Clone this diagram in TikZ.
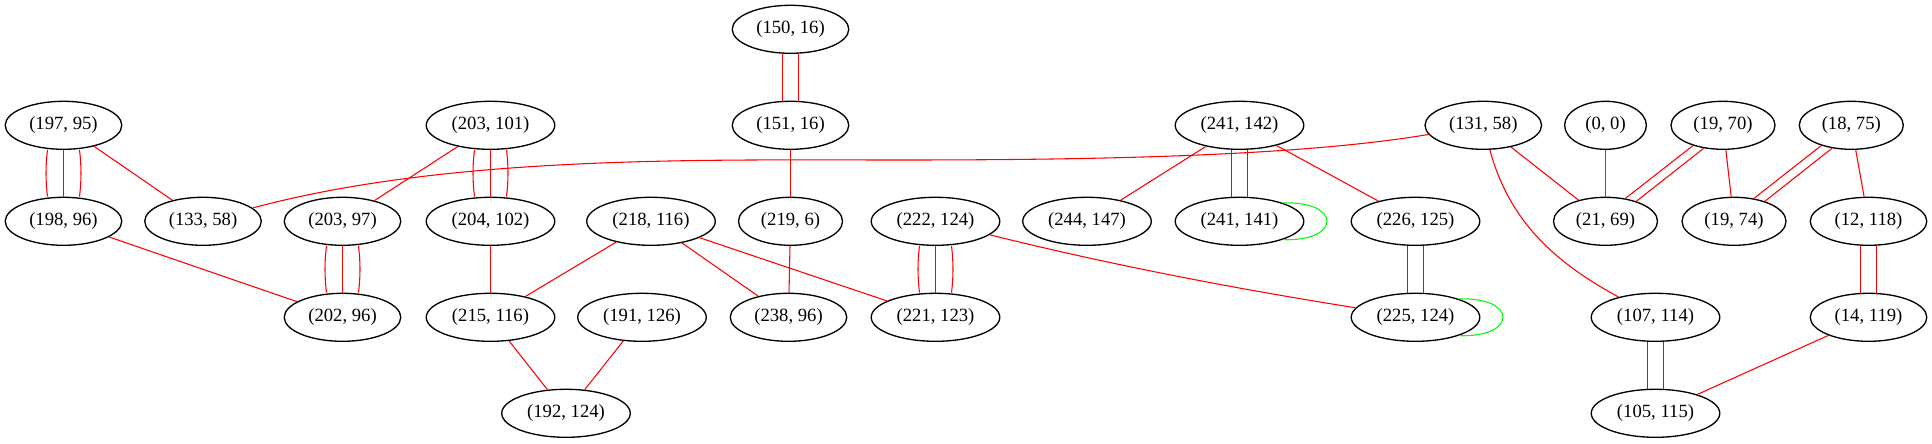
\documentclass[tikz,border=0pt]{standalone}
\usepackage{fontspec}
\setmainfont{Liberation Serif}
\usetikzlibrary{shapes.geometric}
\definecolor{gvpurple}{HTML}{A020F0}
\definecolor{gvgreen}{HTML}{00FF00}
\definecolor{gvred}{HTML}{FF0000}
\tikzset{
  gn/.style={ellipse, draw=black, line width=1pt, inner sep=0pt, minimum height=36pt, font=\fontsize{14}{16}\selectfont},
  wa/.style={gn, minimum width=61.3pt},
  wb/.style={gn, minimum width=78pt},
  wc/.style={gn, minimum width=87.4pt},
  wd/.style={gn, minimum width=96.4pt},
  re/.style={draw=gvred, line width=0.8pt},
  lp/.style={draw=gvgreen, line width=0.8pt},
  pe/.style={draw=gvpurple, line width=0.8pt},
}
\newcommand\gvdbl[2]{%
  \draw[re] ([xshift=-6pt]#1.south) -- ([xshift=-6pt]#2.north);
  \draw[re] ([xshift=6pt]#1.south) -- ([xshift=6pt]#2.north);}
\newcommand\gvtrp[2]{%
  \draw[re] ([xshift=-12pt]#1.south) .. controls +(-2,16) and +(-2,-16) .. ([xshift=-12pt]#2.north);
  \draw[re] (#1) -- (#2);
  \draw[re] ([xshift=12pt]#1.south) .. controls +(2,16) and +(2,-16) .. ([xshift=12pt]#2.north);}
\begin{document}
\begin{tikzpicture}[x=0.75pt, y=-0.75pt]
\useasboundingbox (0,0) rectangle (1932,443);
% row 1
\node[wc] (n150x16) at (790.5,29.3) {(150, 16)};
% row 2
\node[wc] (n197x95) at (63.5,125.3) {(197, 95)};
\node[wd] (n203x101) at (490.5,125.3) {(203, 101)};
\node[wc] (n151x16) at (790.5,125.3) {(151, 16)};
\node[wd] (n241x142) at (1239.5,125.3) {(241, 142)};
\node[wc] (n131x58) at (1483.3,125.3) {(131, 58)};
\node[wa] (n0x0) at (1605.5,125.3) {(0, 0)};
\node[wb] (n19x70) at (1723,125.3) {(19, 70)};
\node[wb] (n18x75) at (1851.3,125.3) {(18, 75)};
% row 3
\node[wc] (n198x96) at (63.5,221.3) {(198, 96)};
\node[wc] (n133x58) at (203,221.3) {(133, 58)};
\node[wc] (n203x97) at (342.5,221.3) {(203, 97)};
\node[wd] (n204x102) at (490.5,221.3) {(204, 102)};
\node[wd] (n218x116) at (651,221.3) {(218, 116)};
\node[wb] (n219x6) at (790.5,221.3) {(219, 6)};
\node[wd] (n222x124) at (935.5,221.3) {(222, 124)};
\node[wd] (n244x147) at (1087,221.3) {(244, 147)};
\node[wd] (n241x141) at (1239.5,221.3) {(241, 141)};
\node[wd] (n226x125) at (1415.5,221.3) {(226, 125)};
\node[wb] (n21x69) at (1605.5,221.3) {(21, 69)};
\node[wb] (n19x74) at (1734,221.3) {(19, 74)};
\node[wc] (n12x118) at (1868.5,221.3) {(12, 118)};
% row 4
\node[wc] (n202x96) at (342.5,317.3) {(202, 96)};
\node[wd] (n215x116) at (490.5,317.3) {(215, 116)};
\node[wd] (n191x126) at (642,317.3) {(191, 126)};
\node[wc] (n238x96) at (788.5,317.3) {(238, 96)};
\node[wd] (n221x123) at (935.5,317.3) {(221, 123)};
\node[wd] (n225x124) at (1415.5,317.3) {(225, 124)};
\node[wd] (n107x114) at (1655.5,317.3) {(107, 114)};
\node[wc] (n14x119) at (1868.5,317.3) {(14, 119)};
% row 5
\node[wd] (n192x124) at (566,413.3) {(192, 124)};
\node[wd] (n105x115) at (1655.5,413.3) {(105, 115)};
% edges
\gvdbl{n150x16}{n151x16}
\draw[re] (n151x16) -- (n219x6);
\draw[re] (n219x6) -- (n238x96);
\gvtrp{n197x95}{n198x96}
\draw[re] (n197x95) -- (n133x58);
\draw[re] (n198x96) -- (n202x96);
\draw[re] (n203x101) -- (n203x97);
\gvtrp{n203x101}{n204x102}
\gvtrp{n203x97}{n202x96}
\draw[re] (n204x102) -- (n215x116);
\draw[re] (n218x116) -- (n215x116);
\draw[re] (n218x116) -- (n238x96);
\draw[re] (n218x116) -- (n221x123);
\draw[re] (n215x116) -- (n192x124);
\draw[re] (n191x126) -- (n192x124);
\gvtrp{n222x124}{n221x123}
\draw[re] (n222x124) .. controls (1107,264) and (1231,288) .. (n225x124);
\draw[re] (n241x142) -- (n244x147);
\gvdbl{n241x142}{n241x141}
\draw[lp] (n241x141.23) .. controls +(59,-2) and +(59,2) .. (n241x141.-23);
\draw[re] (n241x142) -- (n226x125);
\gvdbl{n226x125}{n225x124}
\draw[lp] (n225x124.23) .. controls +(59,-2) and +(59,2) .. (n225x124.-23);
\coordinate (m1) at (900,160);
\draw[re] (n131x58) .. controls (1300,156) and (1100,160) .. (m1)
  .. controls (700,160) and (450,155) .. (n133x58);
\draw[re] (n131x58) -- (n21x69);
\draw[re] (n131x58) .. controls (1510,225) and (1560,265) .. (n107x114);
\draw[pe] (n0x0) -- (n21x69);
\draw[re] (n19x70.214) -- (n21x69.49);
\draw[re] (n19x70.230) -- (n21x69.33);
\draw[re] (n19x70) -- (n19x74);
\draw[re] (n18x75.214) -- (n19x74.49);
\draw[re] (n18x75.230) -- (n19x74.33);
\draw[re] (n18x75) -- (n12x118);
\gvdbl{n12x118}{n14x119}
\gvdbl{n107x114}{n105x115}
\draw[re] (n14x119) -- (n105x115);
\end{tikzpicture}
\end{document}
